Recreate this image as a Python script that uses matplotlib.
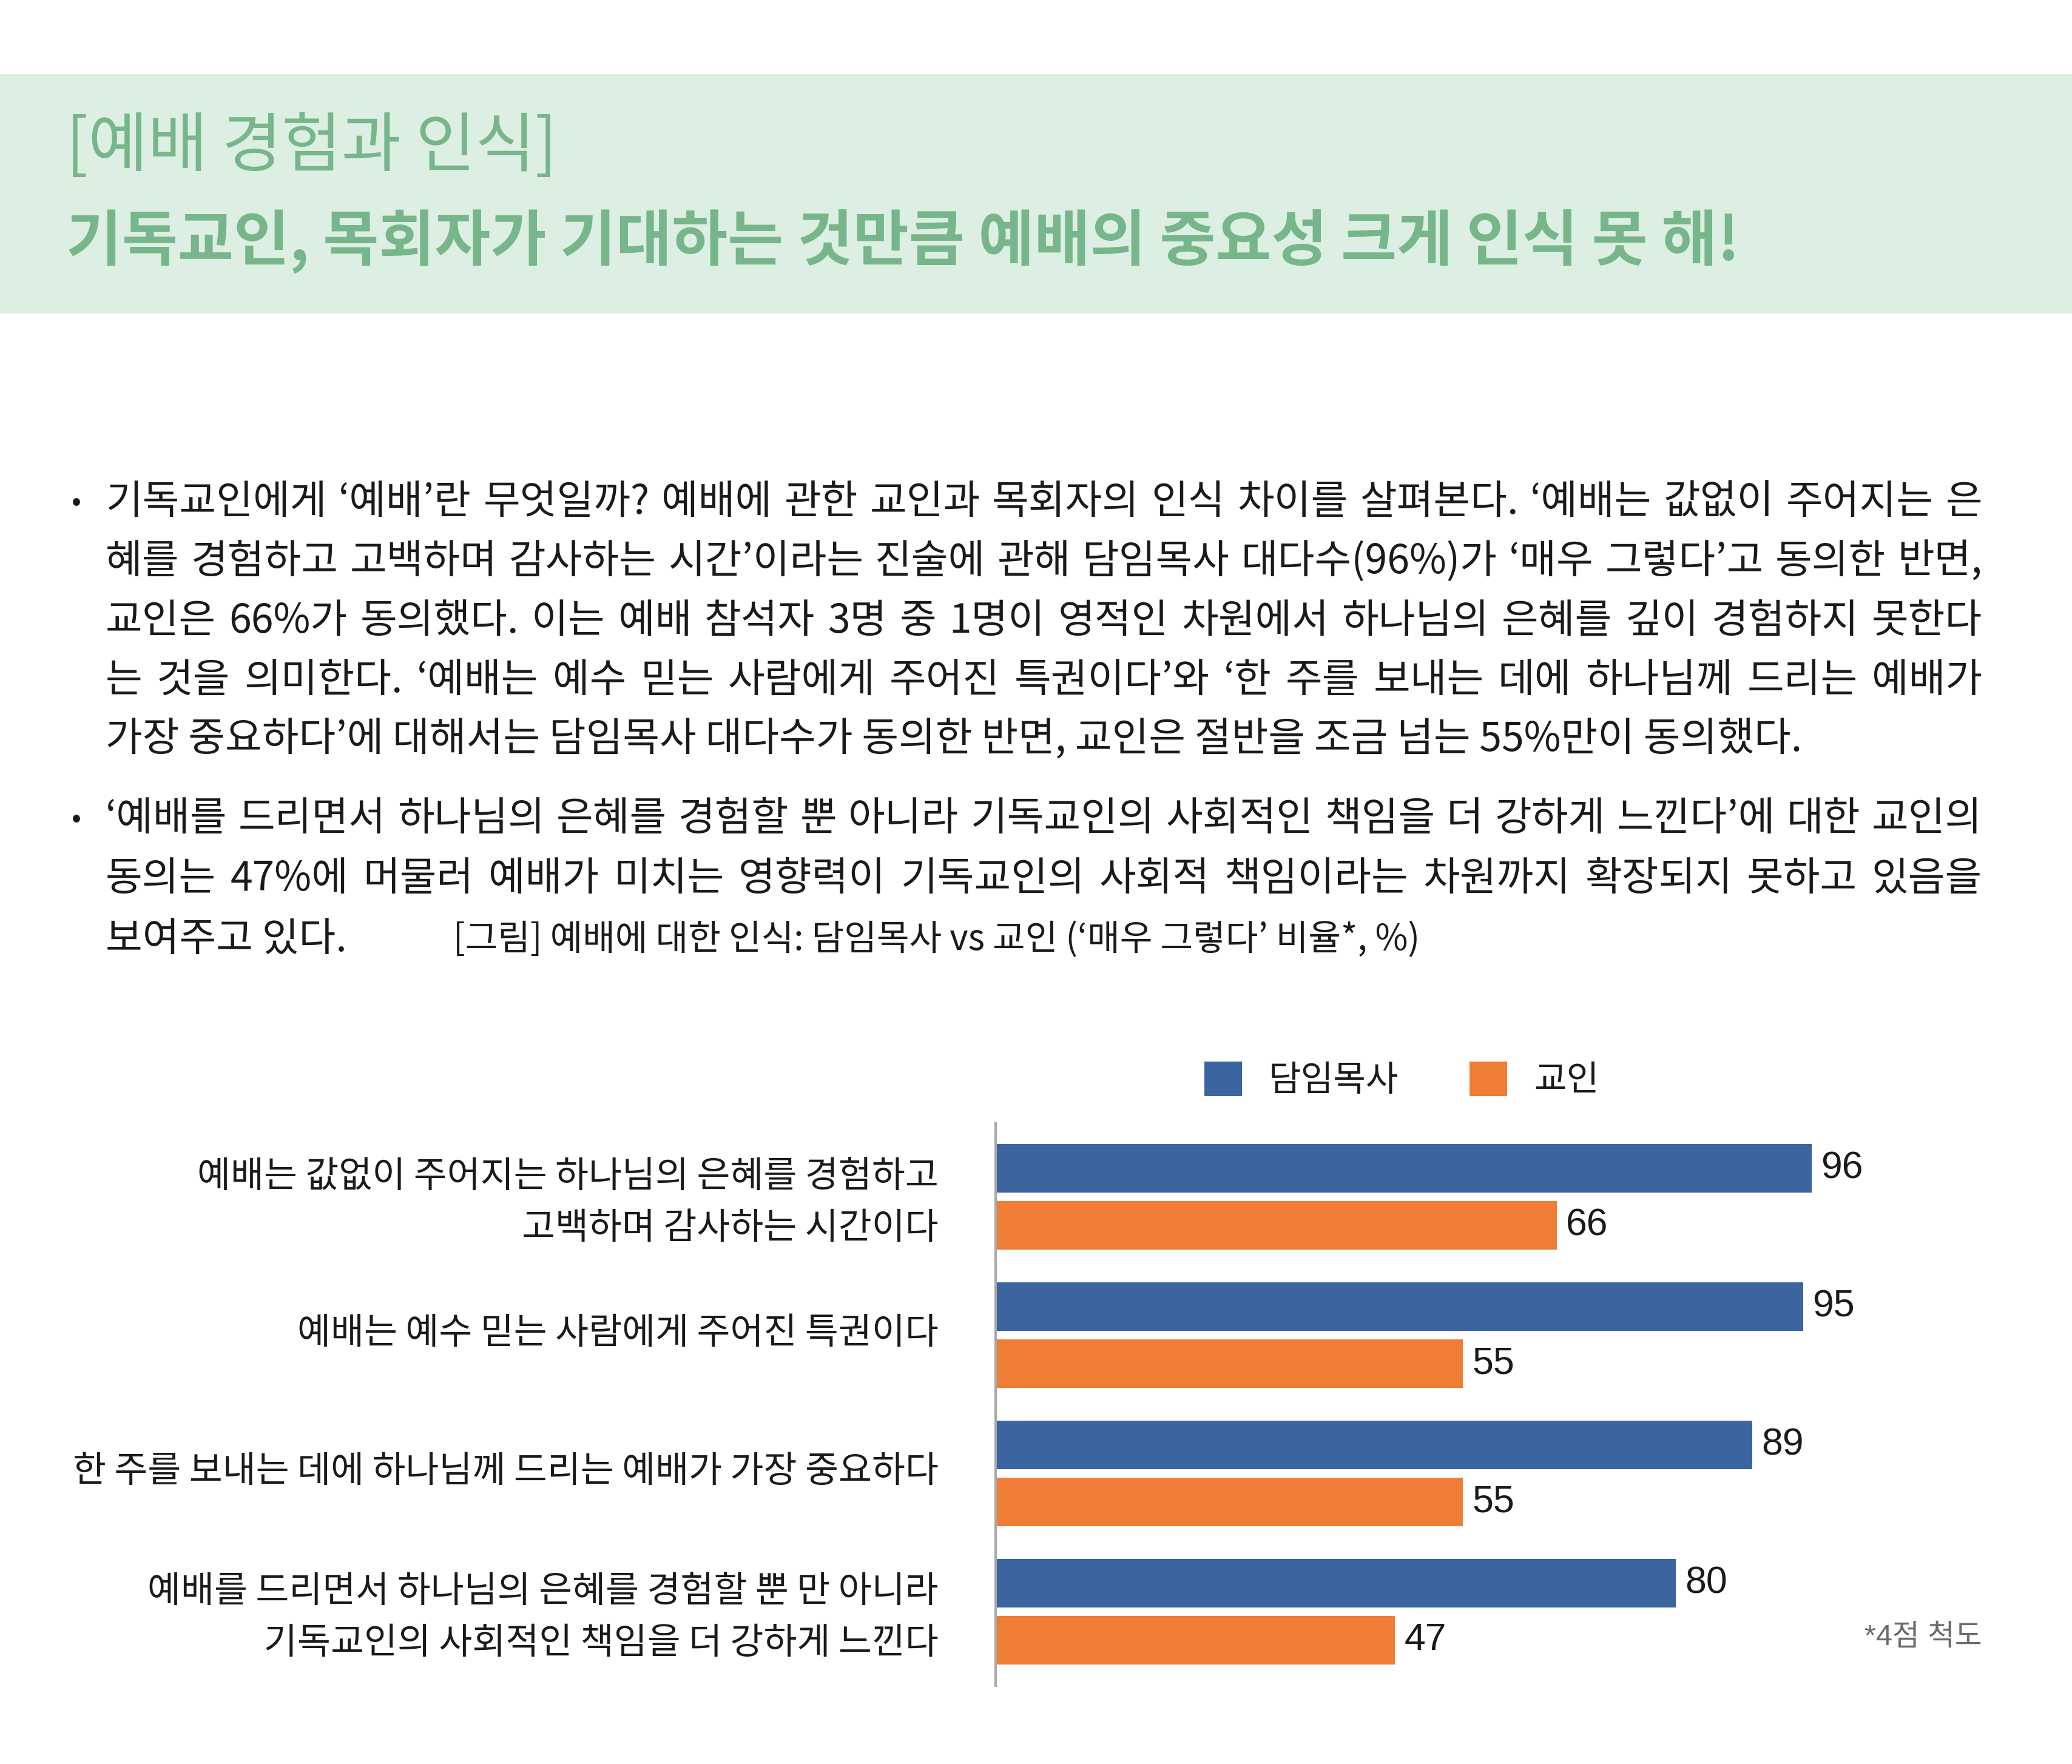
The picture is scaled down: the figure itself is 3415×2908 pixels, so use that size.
import matplotlib

matplotlib.use("Agg")
import matplotlib.pyplot as plt
from matplotlib.patches import Rectangle
from matplotlib.transforms import ScaledTranslation

plt.rcParams["font.family"] = ["Noto Sans CJK KR", "DejaVu Sans"]

W, H = 3415, 2908

section = "[예배 경험과 인식]"
headline = "기독교인, 목회자가 기대하는 것만큼 예배의 중요성 크게 인식 못 해!"

para1 = [
    "기독교인에게 ‘예배’란 무엇일까? 예배에 관한 교인과 목회자의 인식 차이를 살펴본다. ‘예배는 값없이 주어지는 은",
    "혜를 경험하고 고백하며 감사하는 시간’이라는 진술에 관해 담임목사 대다수(96%)가 ‘매우 그렇다’고 동의한 반면,",
    "교인은 66%가 동의했다. 이는 예배 참석자 3명 중 1명이 영적인 차원에서 하나님의 은혜를 깊이 경험하지 못한다",
    "는 것을 의미한다. ‘예배는 예수 믿는 사람에게 주어진 특권이다’와 ‘한 주를 보내는 데에 하나님께 드리는 예배가",
    "가장 중요하다’에 대해서는 담임목사 대다수가 동의한 반면, 교인은 절반을 조금 넘는 55%만이 동의했다.",
]
para2 = [
    "‘예배를 드리면서 하나님의 은혜를 경험할 뿐 아니라 기독교인의 사회적인 책임을 더 강하게 느낀다’에 대한 교인의",
    "동의는 47%에 머물러 예배가 미치는 영향력이 기독교인의 사회적 책임이라는 차원까지 확장되지 못하고 있음을",
    "보여주고 있다.",
]
caption = "[그림] 예배에 대한 인식: 담임목사 vs 교인 (‘매우 그렇다’ 비율*, %)"

categories = [
    "예배는 값없이 주어지는 하나님의 은혜를 경험하고\n고백하며 감사하는 시간이다",
    "예배는 예수 믿는 사람에게 주어진 특권이다",
    "한 주를 보내는 데에 하나님께 드리는 예배가 가장 중요하다",
    "예배를 드리면서 하나님의 은혜를 경험할 뿐 만 아니라\n기독교인의 사회적인 책임을 더 강하게 느낀다",
]
series_names = ["담임목사", "교인"]
pastor = [96, 95, 89, 80]
laity = [66, 55, 55, 47]
footnote = "*4점 척도"

BLUE = "#3B64A0"
ORANGE = "#F07D35"
GREEN = "#76B68A"
BAND = "#DDEEE3"
TEXT = "#1A1A1A"

fig = plt.figure(figsize=(W / 100, H / 100), dpi=100)
renderer = fig.canvas.get_renderer()


def fx(px):
    return px / W


def fy(py):
    return 1 - py / H


# header band
fig.patches.append(Rectangle((0, fy(517)), 1, 395 / H, transform=fig.transFigure,
                             facecolor=BAND, edgecolor="none", zorder=0))
fig.text(fx(109), fy(244), section, fontsize=77, color=GREEN, weight="light", va="center")
fig.text(fx(109), fy(398), headline, fontsize=72, color=GREEN, weight="bold", va="center")


def put_line(text, y, x0=174, x1=3267, size=47.5, justify=True):
    words = text.split(" ")
    if not justify or len(words) == 1:
        fig.text(fx(x0), fy(y), text, fontsize=size, color=TEXT, va="center")
        return
    arts = [fig.text(0, fy(y), w, fontsize=size, color=TEXT, va="center") for w in words]
    widths = [a.get_window_extent(renderer).width for a in arts]
    gap = (x1 - x0 - sum(widths)) / (len(words) - 1)
    x = x0
    for a, w in zip(arts, widths):
        a.set_x(fx(x))
        x += w + gap


p1_y = [828, 926, 1024, 1122, 1220]
for i, (line, y) in enumerate(zip(para1, p1_y)):
    put_line(line, y, justify=i < 4)
p2_y = [1350, 1449, 1550]
for i, (line, y) in enumerate(zip(para2, p2_y)):
    put_line(line, y, justify=i < 2)
for y in (p1_y[0], p2_y[0]):
    fig.text(fx(118), fy(y), "•", fontsize=34, color=TEXT, va="center")
fig.text(fx(747), fy(p2_y[2]), caption, fontsize=42, color=TEXT, va="center")

# chart
ax = fig.add_axes([fx(1641), fy(2779), fx(1611), (2779 - 1852) / H])
pos = list(range(len(categories)))
off, bh = 0.206, 0.35
b1 = ax.barh([p - off for p in pos], pastor, height=bh, color=BLUE, label=series_names[0])
b2 = ax.barh([p + off for p in pos], laity, height=bh, color=ORANGE, label=series_names[1])
for bars, vals in ((b1, pastor), (b2, laity)):
    for rect, v in zip(bars, vals):
        ax.annotate(str(v), (rect.get_width(), rect.get_y() + rect.get_height() / 2),
                    xytext=(11, 0), textcoords="offset points", va="center", ha="left",
                    fontsize=45, family=["Liberation Sans", "DejaVu Sans"], color=TEXT)

ax.set_xlim(0, 115)
ax.set_ylim(3.535, -0.53)
ax.set_yticks(pos)
ax.set_yticklabels(categories, fontsize=43, color=TEXT, linespacing=1.52,
                   ha="right", multialignment="right")
ax.tick_params(axis="y", length=0, pad=68)
lift = ScaledTranslation(0, 0.09, fig.dpi_scale_trans)
for lab in ax.get_yticklabels():
    lab.set_transform(lab.get_transform() + lift)
ax.set_xticks([])
for side in ("top", "right", "bottom"):
    ax.spines[side].set_visible(False)
ax.spines["left"].set_color("#A8A8A8")
ax.spines["left"].set_linewidth(3)

leg = ax.legend(loc="center", bbox_to_anchor=(fx(2310), fy(1781)), bbox_transform=fig.transFigure,
                ncol=2, frameon=False, fontsize=42, handlelength=1.07, handleheight=1.14,
                handletextpad=0.75, columnspacing=2.0, borderpad=0)
for t in leg.get_texts():
    t.set_color(TEXT)

fig.text(fx(3267), fy(2700), footnote, fontsize=35, color="#6B6B6B", ha="right", va="center",
         family=["Liberation Sans", "Noto Sans CJK KR"])

fig.savefig("out.png", dpi=100)
